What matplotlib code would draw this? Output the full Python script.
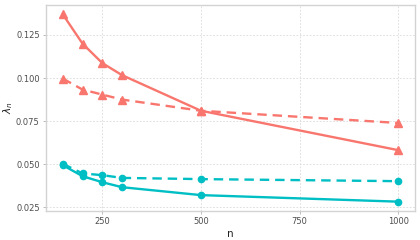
import numpy as np
import matplotlib
matplotlib.use("Agg")
import matplotlib.pyplot as plt

# data
n = [150, 200, 250, 300, 500, 1000]
red_solid = [0.137, 0.120, 0.1087, 0.1017, 0.081, 0.0581]
red_dashed = [0.0997, 0.0933, 0.0904, 0.0875, 0.0810, 0.0739]
cyan_solid = [0.0494, 0.0430, 0.0395, 0.0366, 0.0320, 0.0282]
cyan_dashed = [0.0502, 0.0446, 0.0436, 0.0420, 0.0413, 0.0401]

red = "#F8766D"
cyan = "#00BFC4"

fig = plt.figure(figsize=(4.2, 2.4), dpi=100)
ax = fig.add_axes([0.1095, 0.121, 0.879, 0.858])

ax.plot(n, red_solid, color=red, lw=1.7, marker="^", ms=5.5)
ax.plot(n, red_dashed, color=red, lw=1.7, ls=(0, (4, 2.5)), marker="^", ms=5.5)
ax.plot(n, cyan_solid, color=cyan, lw=1.7, marker="o", ms=4.5)
ax.plot(n, cyan_dashed, color=cyan, lw=1.7, ls=(0, (4, 2.5)), marker="o", ms=4.5)

ax.set_xlim(107.5, 1042.5)
ax.set_ylim(0.0228, 0.1424)
ax.set_xticks([250, 500, 750, 1000])
ax.set_yticks([0.025, 0.050, 0.075, 0.100, 0.125])
ax.set_yticklabels(["0.025", "0.050", "0.075", "0.100", "0.125"])

ax.grid(True, color="#D9D9D9", lw=0.6, ls=(0, (2, 2)))
ax.set_axisbelow(True)
for s in ax.spines.values():
    s.set_color("#D3D3D3")
    s.set_linewidth(1.0)
ax.tick_params(colors="#B3B3B3", labelcolor="#4D4D4D", labelsize=6, length=2.5, width=0.6, pad=2)

ax.set_xlabel("n", fontsize=7.5, color="#222222", labelpad=2)
ax.set_ylabel(r"$\lambda_n$", fontsize=7.5, color="#222222")
ax.yaxis.set_label_coords(-0.083, 0.5)

fig.savefig("out.png", dpi=100)
